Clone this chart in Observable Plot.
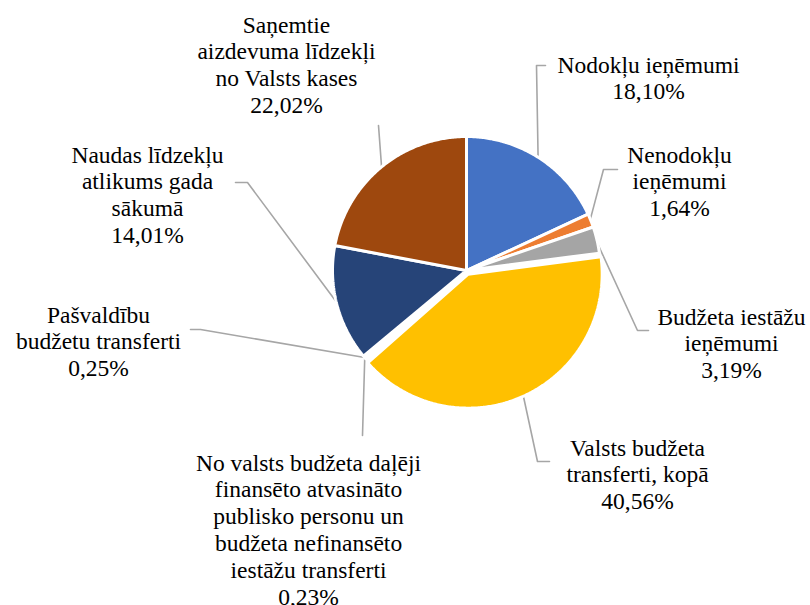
<!DOCTYPE html>
<html>
<head>
<meta charset="utf-8">
<script src="https://cdn.jsdelivr.net/npm/d3@7"></script>
<script src="https://cdn.jsdelivr.net/npm/@observablehq/plot@0.6"></script>
<style>
  html, body { margin: 0; padding: 0; background: #ffffff; }
  #chart svg { display: block; }
  #chart svg text, #chart svg tspan { font-family: "Liberation Serif", "Times New Roman", serif !important; }
</style>
</head>
<body>
<div id="chart"></div>
<script>
// ---------- DATA ----------
const categories = [
  "Nodokļu ieņēmumi",
  "Nenodokļu ieņēmumi",
  "Budžeta iestāžu ieņēmumi",
  "Valsts budžeta transferti, kopā",
  "Pašvaldību budžetu transferti",
  "No valsts budžeta daļēji finansēto atvasināto publisko personu un budžeta nefinansēto iestāžu transferti",
  "Naudas līdzekļu atlikums gada sākumā",
  "Saņemtie aizdevuma līdzekļi no Valsts kases"
];
const shares = [18.10, 1.64, 3.19, 40.56, 0.25, 0.23, 14.01, 22.02];
const labelLines = [
  "Nodokļu ieņēmumi",
  "Nenodokļu\nieņēmumi",
  "Budžeta iestāžu\nieņēmumi",
  "Valsts budžeta\ntransferti, kopā",
  "Pašvaldību\nbudžetu transferti",
  "No valsts budžeta daļēji\nfinansēto atvasināto\npublisko personu un\nbudžeta nefinansēto\niestāžu transferti",
  "Naudas līdzekļu\natlikums gada\nsākumā",
  "Saņemtie\naizdevuma līdzekļi\nno Valsts kases"
];
const colors = ["#4472C4", "#ED7D31", "#A5A5A5", "#FFC000", "#5B9BD5", "#70AD47", "#264478", "#9E480E"];

// ---------- LAYOUT ----------
const W = 810, H = 605;
const cx = 466, cy = 270, R = 134;
const explode = [0, 0, 0, 4, 0, 0, 0, 0];
const fontSize = 23.5, lineGap = 27;
// label centre x, first baseline y, leader elbow points (from label side towards pie)
const labelLayout = [
  {x: 648, base: 72,  elbow: [[545, 65], [536, 65]]},
  {x: 679, base: 162, elbow: [[617, 169], [603, 169]]},
  {x: 731, base: 324, elbow: [[648, 330], [637, 330]]},
  {x: 637, base: 455, elbow: [[549, 461], [537, 461]]},
  {x: 98,  base: 322, elbow: [[190, 329], [200, 329]]},
  {x: 308, base: 470, elbow: [[362, 435]]},
  {x: 147, base: 162, elbow: [[235, 182], [247, 182]]},
  {x: 286, base: 32,  elbow: [[378, 125]]}
];

const fmt = v => v.toFixed(2).replace(".", ",") + "%";
const arcs = d3.pie().sort(null).value(d => d)(shares);

const slicePts = [];
const leaderPts = [];
arcs.forEach((a, i) => {
  const cat = categories[i];
  const mid = (a.startAngle + a.endAngle) / 2;
  const ox = explode[i] * Math.sin(mid), oy = -explode[i] * Math.cos(mid);
  const sx = cx + ox, sy = cy + oy;
  slicePts.push({cat, x: sx, y: sy});
  const n = Math.max(2, Math.ceil((a.endAngle - a.startAngle) / 0.01));
  for (let k = 0; k <= n; k++) {
    const t = a.startAngle + (a.endAngle - a.startAngle) * k / n;
    slicePts.push({cat, x: sx + R * Math.sin(t), y: sy - R * Math.cos(t)});
  }
  slicePts.push({cat, x: sx, y: sy});
  labelLayout[i].elbow.forEach(([x, y]) => leaderPts.push({cat, x, y}));
  leaderPts.push({cat, x: sx + (R - 1) * Math.sin(mid), y: sy - (R - 1) * Math.cos(mid)});
});

const lh = lineGap / fontSize;
const textMarks = categories.map((c, i) => {
  const L = labelLayout[i];
  return Plot.text([{t: labelLines[i] + "\n" + fmt(shares[i])}], {
    x: () => L.x,
    y: () => L.base - 0.71 * lh * fontSize,
    text: "t",
    lineAnchor: "top",
    textAnchor: "middle",
    lineHeight: lh,
    fontSize: fontSize,
    fontFamily: "Liberation Serif",
    fill: "#000000"
  });
});

const chart = Plot.plot({
  width: W,
  height: H,
  margin: 0,
  x: {domain: [0, W], range: [0, W], axis: null},
  y: {domain: [0, H], range: [0, H], axis: null},
  color: {domain: categories, range: colors},
  style: {background: "#ffffff", fontFamily: "Liberation Serif"},
  marks: [
    Plot.line(leaderPts, {x: "x", y: "y", z: "cat", stroke: "#A6A6A6", strokeWidth: 1.6}),
    Plot.line(slicePts, {x: "x", y: "y", z: "cat", fill: "cat", stroke: "#ffffff", strokeWidth: 3, strokeLinejoin: "miter"}),
    ...textMarks
  ]
});
document.getElementById("chart").appendChild(chart);
</script>
</body>
</html>
